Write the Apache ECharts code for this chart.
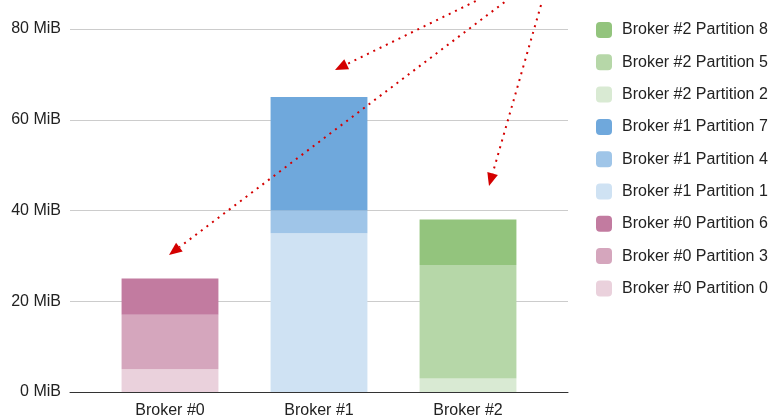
<!DOCTYPE html>
<html>
<head>
<meta charset="utf-8">
<script src="https://cdn.jsdelivr.net/npm/echarts@6/dist/echarts.min.js"></script>
<style>
  html, body { margin: 0; padding: 0; background: #fff; }
  #chart { width: 771px; height: 419px; }
</style>
</head>
<body>
<div id="chart"></div>
<script>
// categories
const brokers = ['Broker #0', 'Broker #1', 'Broker #2']
// partition sizes in MiB, index = partition number, broker = partition % 3
const partitionSizes = [5, 35, 3, 12, 5, 25, 8, 25, 10]
const partitionColors = [
  '#ead1dc', '#cfe2f3', '#d9ead3',
  '#d5a6bd', '#9fc5e8', '#b6d7a8',
  '#c27ba0', '#6fa8dc', '#93c47d'
]
const yTicks = [0, 20, 40, 60, 80]
// red dotted annotation arrows (pixel positions on the picture)
const arrows = [
  { from: [482, -2], to: [335, 70] },
  { from: [510, -2], to: [169, 255] },
  { from: [541, 5], to: [489, 186] }
]

const font = 'Liberation Sans, Arial, sans-serif'

const series = partitionSizes.map((v, p) => {
  const b = p % 3
  const data = brokers.map((_, i) => (i === b ? v : 0))
  return {
    name: `Broker #${b} Partition ${p}`,
    type: 'bar',
    stack: 'total',
    barWidth: '65%',
    xAxisIndex: 1,
    yAxisIndex: 1,
    itemStyle: { color: partitionColors[p] },
    emphasis: { disabled: true },
    data: data
  }
})

// legend: highest broker first, then highest partition first
const legendOrder = partitionSizes
  .map((_, p) => p)
  .sort((a, b) => (b % 3) - (a % 3) || b - a)
  .map(p => `Broker #${p % 3} Partition ${p}`)

function arrowGraphic(a) {
  const [x1, y1] = a.from
  const [x2, y2] = a.to
  const ang = Math.atan2(y2 - y1, x2 - x1)
  const len = 13, half = 5.5
  const bx = x2 - len * Math.cos(ang), by = y2 - len * Math.sin(ang)
  const px = -Math.sin(ang) * half, py = Math.cos(ang) * half
  return [
    {
      type: 'line',
      shape: { x1: x1, y1: y1, x2: bx, y2: by },
      style: { stroke: '#d40000', lineWidth: 2, lineDash: [2, 5] },
      z: 100
    },
    {
      type: 'polygon',
      shape: { points: [[x2, y2], [bx + px, by + py], [bx - px, by - py]] },
      style: { fill: '#d40000' },
      z: 100
    }
  ]
}

const yBase = {
  type: 'value',
  min: yTicks[0],
  max: yTicks[yTicks.length - 1],
  interval: 20
}

const chart = echarts.init(document.getElementById('chart'))
chart.setOption({
  animation: false,
  grid: [
    { left: 70, right: 203, top: 29, bottom: 27 },
    { left: 95.5, right: 228.5, top: 29, bottom: 27 }
  ],
  legend: {
    orient: 'vertical',
    left: 591,
    top: 17,
    itemWidth: 16,
    itemHeight: 16,
    itemGap: 16.3,
    icon: 'roundRect',
    data: legendOrder,
    textStyle: { fontFamily: font, fontSize: 16, color: '#222', padding: [0, 0, 0, 5] }
  },
  xAxis: [
    {
      type: 'category',
      gridIndex: 0,
      data: [''],
      axisTick: { show: false },
      axisLabel: { show: false },
      axisLine: { lineStyle: { color: '#333', width: 1 } }
    },
    {
      type: 'category',
      gridIndex: 1,
      data: brokers,
      axisTick: { show: false },
      axisLine: { show: false },
      axisLabel: { fontFamily: font, fontSize: 16, color: '#222', margin: 11 }
    }
  ],
  yAxis: [
    Object.assign({}, yBase, {
      gridIndex: 0,
      axisLine: { show: false },
      axisTick: { show: false },
      splitLine: { lineStyle: { color: '#ccc' } },
      axisLabel: {
        fontFamily: font, fontSize: 16, color: '#222', margin: 9,
        padding: [3, 0, 0, 0],
        formatter: v => v + ' MiB'
      }
    }),
    Object.assign({}, yBase, {
      gridIndex: 1,
      show: false,
      splitLine: { show: false }
    })
  ],
  series: series,
  graphic: arrows.flatMap(arrowGraphic)
})
</script>
</body>
</html>
